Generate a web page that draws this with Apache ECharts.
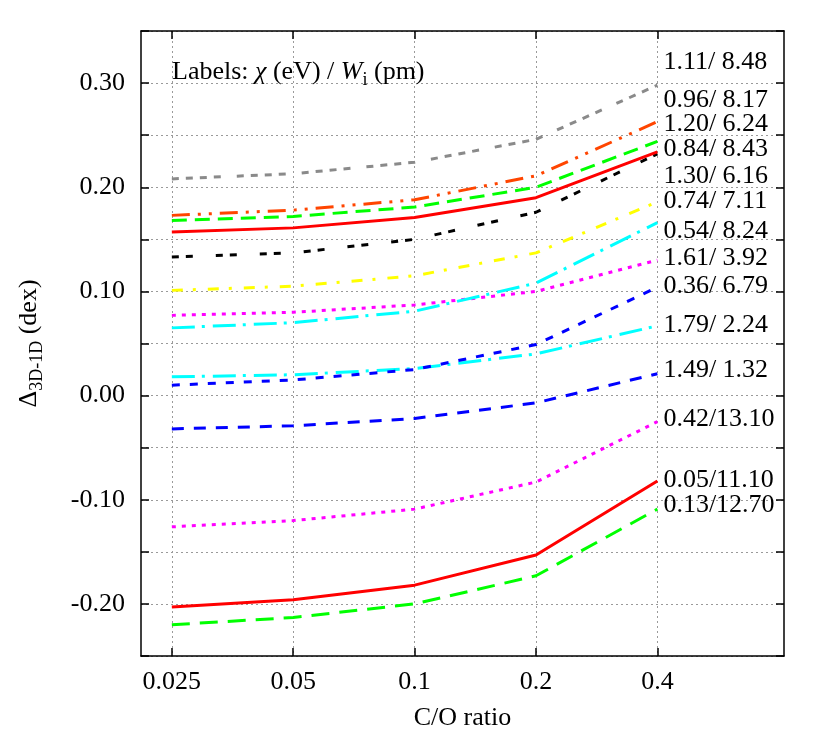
<!DOCTYPE html>
<html>
<head>
<meta charset="utf-8">
<script src="https://cdn.jsdelivr.net/npm/echarts@6/dist/echarts.min.js"></script>
<style>html,body{margin:0;padding:0;background:#fff;}#chart{width:830px;height:738px;}</style>
</head>
<body>
<div id="chart"></div>
<script>
// ---- data ----
const categories = ['0.025', '0.05', '0.1', '0.2', '0.4'];
const gray_111    = [0.208, 0.213, 0.224, 0.246, 0.298];
const orange_096  = [0.173, 0.178, 0.188, 0.211, 0.263];
const green_120   = [0.168, 0.172, 0.181, 0.200, 0.244];
const red_084     = [0.157, 0.161, 0.171, 0.190, 0.234];
const black_130   = [0.133, 0.137, 0.150, 0.176, 0.232];
const yellow_074  = [0.101, 0.105, 0.115, 0.137, 0.186];
const cyan_054    = [0.065, 0.070, 0.081, 0.108, 0.166];
const magenta_161 = [0.077, 0.080, 0.087, 0.100, 0.130];
const blue_036    = [0.010, 0.015, 0.025, 0.049, 0.104];
const cyan_179    = [0.018, 0.020, 0.026, 0.040, 0.067];
const blue_149    = [-0.032, -0.029, -0.022, -0.007, 0.021];
const magenta_042 = [-0.126, -0.120, -0.109, -0.083, -0.025];
const red_005     = [-0.203, -0.196, -0.182, -0.153, -0.082];
const green_013   = [-0.220, -0.213, -0.200, -0.173, -0.109];

const labelTexts = ['1.11/ 8.48', '0.96/ 8.17', '1.20/ 6.24', '0.84/ 8.43', '1.30/ 6.16', '0.74/ 7.11',
  '0.54/ 8.24', '1.61/ 3.92', '0.36/ 6.79', '1.79/ 2.24', '1.49/ 1.32', '0.42/13.10', '0.05/11.10', '0.13/12.70'];
const labelY = [0.320, 0.284, 0.261, 0.237, 0.211, 0.187, 0.158, 0.132, 0.105, 0.068, 0.024, -0.023, -0.081, -0.105];
const yTicks = { min: -0.25, max: 0.35, interval: 0.05 };

// ---- styles ----
const FONT = '"Liberation Serif", "DejaVu Serif", serif';
const seriesDefs = [
  [gray_111,    '#8a8a8a', [7,7,7,7,7,7,7,16]],
  [orange_096,  '#ff4500', [18,8,3,8,3,8]],
  [green_120,   '#00ff00', [15,8]],
  [red_084,     '#ff0000', 'solid'],
  [black_130,   '#000000', [7,7,7,23]],
  [yellow_074,  '#ffff00', [11,10,3,12]],
  [cyan_054,    '#00ffff', [23,7,3,8]],
  [magenta_161, '#ff00ff', [4,6]],
  [blue_036,    '#0000ff', [8,10]],
  [cyan_179,    '#00ffff', [23,7,3,8]],
  [blue_149,    '#0000ff', [12,10]],
  [magenta_042, '#ff00ff', [4,6]],
  [red_005,     '#ff0000', 'solid'],
  [green_013,   '#00ff00', [18,10]]
];

const tickIdx = categories.map((c, i) => i);
const axisLineStyle = { color: '#000', width: 1.5 };

const series = seriesDefs.map((d, k) => ({
  type: 'line',
  name: labelTexts[k],
  data: d[0].map((v, i) => [i, v]),
  symbol: 'none',
  lineStyle: { color: d[1], width: 3, type: d[2] },
  z: 3 + (seriesDefs.length - k) * 0.01
}));
series.push({
  type: 'scatter',
  symbolSize: 0,
  data: labelTexts.map((t, k) => ({ name: t, value: [tickIdx[tickIdx.length - 1], labelY[k]] })),
  label: { show: true, position: 'right', distance: 6, formatter: p => p.name,
           color: '#000000', fontSize: 26, fontFamily: FONT, textBorderWidth: 0 },
  itemStyle: { opacity: 1 },
  silent: true, z: 5
});

const chart = echarts.init(document.getElementById('chart'), null, { renderer: 'canvas' });
chart.setOption({
  animation: false,
  backgroundColor: '#fff',
  grid: { left: 141, right: 46, top: 31, bottom: 82, containLabel: false },
  xAxis: [{
    type: 'value', min: -0.254, max: 5.043, position: 'bottom',
    axisLine: { show: true, onZero: false, lineStyle: axisLineStyle },
    axisTick: { show: true, inside: true, length: 8, customValues: tickIdx, lineStyle: axisLineStyle },
    axisLabel: { customValues: tickIdx, formatter: v => categories[Math.round(v)], color: '#000',
                 fontSize: 26, fontFamily: FONT, margin: 13 },
    splitLine: { show: true, lineStyle: { color: '#9a9a9a', width: 1, type: [2, 3] } },
    name: 'C/O ratio', nameLocation: 'middle', nameGap: 49,
    nameTextStyle: { color: '#000', fontSize: 26, fontFamily: FONT }
  }, {
    type: 'value', min: -0.254, max: 5.043, position: 'top',
    axisLine: { show: true, onZero: false, lineStyle: axisLineStyle },
    axisTick: { show: true, inside: true, length: 8, customValues: tickIdx, lineStyle: axisLineStyle },
    axisLabel: { show: false }, splitLine: { show: false }
  }],
  yAxis: [{
    type: 'value', min: yTicks.min, max: yTicks.max, interval: yTicks.interval, position: 'left',
    axisLine: { show: true, onZero: false, lineStyle: axisLineStyle },
    axisTick: { show: true, inside: true, length: 8, lineStyle: axisLineStyle },
    axisLabel: { color: '#000', fontSize: 26, fontFamily: FONT, margin: 16,
      formatter: v => { const k = Math.round(v * 100); return (k % 10 === 0) ? (k / 100).toFixed(2) : ''; } },
    splitLine: { show: true, lineStyle: { color: '#9a9a9a', width: 1, type: [2, 3] } },
    name: '{d|Δ}{s|3D-1D}{d| (dex)}', nameLocation: 'middle', nameGap: 95, nameRotate: 90,
    nameTextStyle: { color: '#000', fontFamily: FONT,
      rich: {
        d: { fontSize: 26, fontFamily: FONT, color: '#000', lineHeight: 30, verticalAlign: 'top' },
        s: { fontSize: 18, fontFamily: FONT, color: '#000', lineHeight: 14, verticalAlign: 'bottom' }
      } }
  }, {
    type: 'value', min: yTicks.min, max: yTicks.max, interval: yTicks.interval, position: 'right',
    axisLine: { show: true, onZero: false, lineStyle: axisLineStyle },
    axisTick: { show: true, inside: true, length: 8, lineStyle: axisLineStyle },
    axisLabel: { show: false }, splitLine: { show: false }
  }],
  graphic: [{
    type: 'text', left: 172, top: 59, z: 10,
    style: {
      text: '{a|Labels: }{i|χ}{a| (eV) / }{i|W}{s|i}{a| (pm)}',
      rich: {
        a: { fontSize: 26, fontFamily: FONT, fill: '#000', lineHeight: 30, verticalAlign: 'top' },
        i: { fontSize: 26, fontFamily: FONT, fontStyle: 'italic', fill: '#000', lineHeight: 30, verticalAlign: 'top' },
        s: { fontSize: 18, fontFamily: FONT, fill: '#000', lineHeight: 14, verticalAlign: 'bottom' }
      }
    }
  }],
  series: series
});
</script>
</body>
</html>
